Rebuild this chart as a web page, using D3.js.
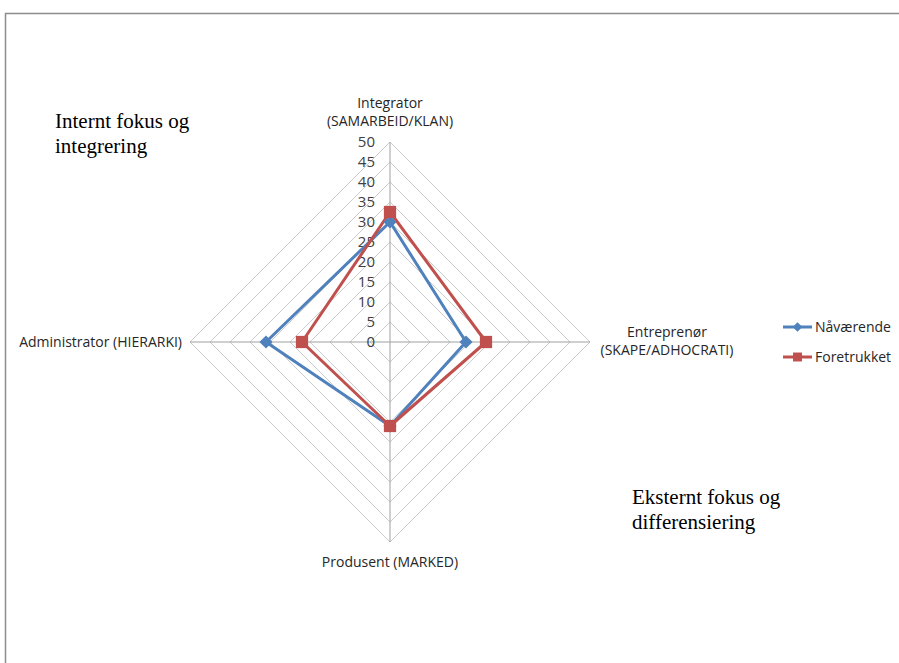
<!DOCTYPE html>
<html>
<head>
<meta charset="utf-8">
<script src="https://cdn.jsdelivr.net/npm/d3@7"></script>
<style>
  html, body { margin: 0; padding: 0; background: #fff; }
  svg { display: block; }
</style>
</head>
<body>
<svg id="chart" width="899" height="663"></svg>
<script>
// Competing values framework: current vs preferred culture profile
const axes = [
  ["Integrator", "(SAMARBEID/KLAN)"],
  ["Entreprenør", "(SKAPE/ADHOCRATI)"],
  ["Produsent (MARKED)"],
  ["Administrator (HIERARKI)"]
];
const seriesNames = ["Nåværende", "Foretrukket"];
const navaerende = [30, 19, 21, 31];
const foretrukket = [32.5, 24, 21, 22];
const tickValues = [0, 5, 10, 15, 20, 25, 30, 35, 40, 45, 50];

const colors = ["#4F81BD", "#C0504D"];
const svg = d3.select("#chart");

// outer frame
svg.append("path")
  .attr("d", "M5.5,663 L5.5,13.5 L899,13.5")
  .attr("fill", "none").attr("stroke", "#8c8c8c").attr("stroke-width", 1.5);

const cx = 390, cy = 342, R = 200;
const r = d3.scaleLinear().domain([0, 50]).range([0, R]);
const angle = d3.scaleLinear().domain([0, axes.length]).range([0, 2 * Math.PI]);
const pt = (i, v) => {
  const a = angle(i);
  return [cx + r(v) * Math.sin(a), cy - r(v) * Math.cos(a)];
};

const g = svg.append("g");

// grid rings
tickValues.filter(t => t > 0).forEach(t => {
  g.append("path")
    .attr("d", d3.line()(axes.map((_, i) => pt(i, t))) + "Z")
    .attr("fill", "none").attr("stroke", "#cccccc").attr("stroke-width", 1);
});
// spokes
axes.forEach((_, i) => {
  const [x, y] = pt(i, 50);
  g.append("line").attr("x1", cx).attr("y1", cy).attr("x2", x).attr("y2", y)
    .attr("stroke", "#a0a0a0").attr("stroke-width", 1);
});

// tick labels along the top spoke
g.selectAll("text.tick").data(tickValues).join("text")
  .attr("class", "tick")
  .attr("x", cx - 15)
  .attr("y", d => cy - r(d))
  .attr("dy", "0.35em")
  .attr("text-anchor", "end")
  .attr("font-family", "'Open Sans', sans-serif")
  .attr("font-size", 15)
  .attr("fill", "#404040")
  .text(d => d);

// axis labels
const labelFont = "'Open Sans', sans-serif";
const axisLabel = (lines, x, y, anchor) => {
  const t = svg.append("text")
    .attr("font-family", labelFont).attr("font-size", 14).attr("fill", "#262626")
    .attr("text-anchor", anchor);
  lines.forEach((s, k) => t.append("tspan").attr("x", x).attr("y", y + k * 18).text(s));
};
axisLabel(axes[0], cx, 108, "middle");
axisLabel(axes[1], 667, 337, "middle");
axisLabel(axes[2], cx, 567, "middle");
axisLabel(axes[3], 182, 347, "end");

// series
const data = [navaerende, foretrukket];
data.forEach((vals, s) => {
  const pts = vals.map((v, i) => pt(i, v));
  svg.append("path")
    .attr("d", d3.line()(pts) + "Z")
    .attr("fill", "none").attr("stroke", colors[s]).attr("stroke-width", 3)
    .attr("stroke-linejoin", "round");
});
const sym = [d3.symbol().type(d3.symbolDiamond2).size(110), d3.symbol().type(d3.symbolSquare).size(150)];
data.forEach((vals, s) => {
  svg.selectAll("path.m" + s).data(vals).join("path")
    .attr("class", "m" + s)
    .attr("transform", (v, i) => `translate(${pt(i, v)})`)
    .attr("d", sym[s]())
    .attr("fill", colors[s]);
});

// legend
seriesNames.forEach((name, s) => {
  const y = 327 + s * 30;
  svg.append("line").attr("x1", 783).attr("x2", 812).attr("y1", y).attr("y2", y)
    .attr("stroke", colors[s]).attr("stroke-width", 3);
  svg.append("path").attr("transform", `translate(797.5,${y})`)
    .attr("d", d3.symbol().type(s === 0 ? d3.symbolDiamond2 : d3.symbolSquare).size(s === 0 ? 60 : 80)())
    .attr("fill", colors[s]);
  svg.append("text").attr("x", 815).attr("y", y).attr("dy", "0.35em")
    .attr("font-family", labelFont).attr("font-size", 14).attr("fill", "#262626")
    .text(name);
});

// quadrant annotations
const note = (lines, x, y) => {
  const t = svg.append("text").attr("font-family", "'Liberation Serif', 'Times New Roman', serif")
    .attr("font-size", 21).attr("fill", "#000");
  lines.forEach((s, k) => t.append("tspan").attr("x", x).attr("y", y + k * 25).text(s));
};
note(["Internt fokus og", "integrering"], 55, 128);
note(["Eksternt fokus og", "differensiering"], 632, 504);
</script>
</body>
</html>
